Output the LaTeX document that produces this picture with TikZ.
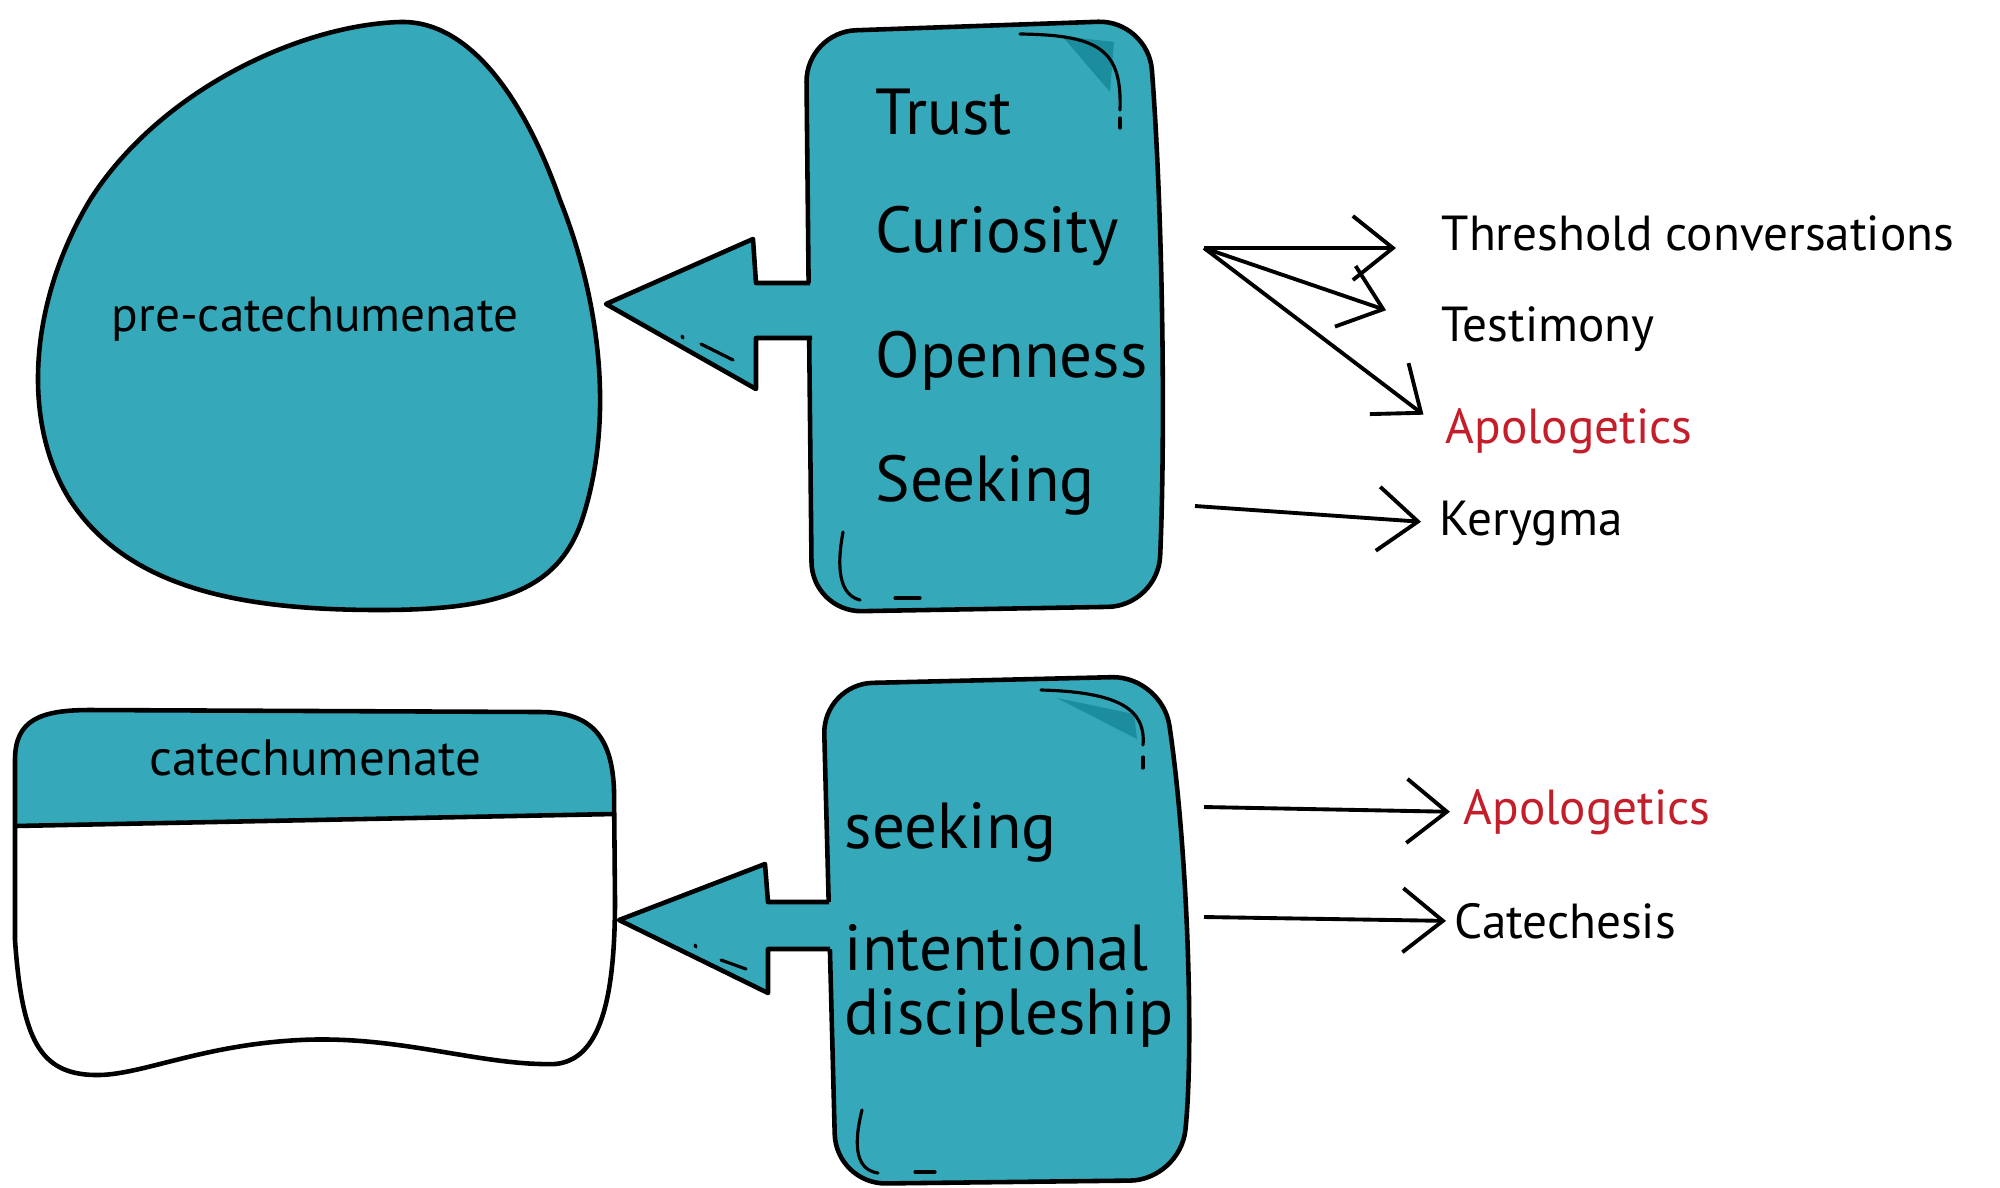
\documentclass[tikz,border=0pt]{standalone}
\usepackage{fontspec}
\setmainfont{PT Sans}
\usetikzlibrary{arrows.meta}
\definecolor{cteal}{HTML}{35A9BA}
\definecolor{cdark}{HTML}{1C8D9D}
\definecolor{cred}{HTML}{C41E2A}

\begin{document}
\begin{tikzpicture}[x=0.01cm,y=-0.01cm,
  tealfill/.style={fill=cteal,draw=black,line width=1.3pt,line join=round},
  outline/.style={line width=1.3pt,line join=round},
  sketch/.style={line width=0.9pt,line cap=round},
  word/.style={anchor=west,inner sep=0pt,font=\fontsize{18.5}{19}\selectfont},
  itemtxt/.style={anchor=west,inner sep=0pt,font=\fontsize{14}{16}\selectfont},
  >={Straight Barb[length=4mm,width=6.4mm]},
  link/.style={->,line width=1.1pt}]
\useasboundingbox (0,0) rectangle (2000,1187);

% upper row: blob
\draw[tealfill] (400,22) .. controls (470,20) and (525,100) .. (560,200)
  .. controls (600,300) and (615,420) .. (582,520)
  .. controls (558,590) and (500,610) .. (380,610)
  .. controls (250,610) and (130,592) .. (70,500)
  .. controls (20,420) and (30,300) .. (90,200)
  .. controls (160,90) and (300,25) .. (400,22) -- cycle;
\node[font=\fontsize{14}{16}\selectfont] (pre) at (315,319) {pre-catechumenate};

% upper row: box
\draw[tealfill,rounded corners=0.5cm] (806,32) -- (1148,20)
  .. controls (1162,200) and (1166,420) .. (1158,606) -- (812,612) -- cycle;
\fill[cdark] (1062,36) -- (1114,42) -- (1110,92) -- cycle;
\draw[sketch] (1020,34) .. controls (1100,35) and (1122,50) .. (1120,110);
\draw[sketch] (1120,118) -- (1120,128);
\draw[sketch] (843,532) .. controls (836,570) and (840,595) .. (860,600);
\draw[sketch] (895,598) -- (920,598);

% upper row: block arrow
\coordinate (ptip) at (606,304);
\fill[cteal] (832,283) -- (756,283) -- (753,239) -- (ptip) -- (756,389) -- (756,338) -- (832,338) -- cycle;
\draw[outline] (810,283) -- (756,283) -- (753,239) -- (ptip) -- (756,389) -- (756,338) -- (812,338);
\draw[sketch] (682,336) -- (683,338);
\draw[sketch] (701,344) -- (733,360);

\node[word] (trust) at (875,112) {Trust};
\node[word] (curio) at (875,236) {Curiosity};
\node[word] (open) at (875,361) {Openness};
\node[word] (seek) at (875,485) {Seeking};

% upper row: links
\coordinate (fork) at (1204,248);
\coordinate (kstart) at (1195,506);
\node[itemtxt] (thr) at (1441,233) {Threshold conversations};
\node[itemtxt] (tes) at (1441,329) {Testimony};
\node[itemtxt,text=cred] (apo) at (1445,431) {Apologetics};
\node[itemtxt] (ker) at (1439,523) {Kerygma};
\draw[link,shorten >=4.5mm] (fork) -- (fork -| thr.west);
\draw[link,shorten >=5.8mm] (fork) -- (tes.west);
\draw[link,shorten >=2.7mm] (fork) -- (apo.west);
\draw[link,shorten >=1.8mm] (kstart) -- (ker.west);

% lower row: catechumenate box
\begin{scope}
\clip (15,760) .. controls (15,720) and (40,710) .. (90,710) -- (540,712)
  .. controls (590,712) and (612,735) .. (614,790) -- (615,900)
  .. controls (615,1000) and (600,1060) .. (555,1064)
  .. controls (480,1066) and (400,1035) .. (300,1040)
  .. controls (200,1045) and (140,1076) .. (95,1075)
  .. controls (40,1074) and (22,1040) .. (15,940) -- cycle;
\fill[white] (0,700) rectangle (700,1100);
\fill[cteal] (0,700) -- (700,700) -- (700,814) -- (0,826) -- cycle;
\end{scope}
\draw[outline] (15,760) .. controls (15,720) and (40,710) .. (90,710) -- (540,712)
  .. controls (590,712) and (612,735) .. (614,790) -- (615,900)
  .. controls (615,1000) and (600,1060) .. (555,1064)
  .. controls (480,1066) and (400,1035) .. (300,1040)
  .. controls (200,1045) and (140,1076) .. (95,1075)
  .. controls (40,1074) and (22,1040) .. (15,940) -- cycle;
\draw[outline] (15,826) -- (614,814);
\node[font=\fontsize{14.5}{16}\selectfont] (cate) at (315,758) {catechumenate};

% lower row: box
\draw[tealfill,rounded corners=0.5cm] (823,684) -- (1162,676)
  .. controls (1188,850) and (1194,1050) .. (1180,1180) -- (836,1184) -- cycle;
\fill[cdark] (1057,698) -- (1134,714) -- (1137,739) -- cycle;
\draw[sketch] (1041,690) .. controls (1120,692) and (1146,710) .. (1143,745);
\draw[sketch] (1143,757) -- (1143,768);
\draw[sketch] (862,1110) .. controls (852,1150) and (858,1170) .. (878,1173);
\draw[sketch] (915,1172) -- (935,1172);

% lower row: block arrow
\coordinate (qtip) at (619,920);
\fill[cteal] (847,902) -- (768,902) -- (765,864) -- (qtip) -- (768,993) -- (768,949) -- (847,949) -- cycle;
\draw[outline] (829,902) -- (768,902) -- (765,864) -- (qtip) -- (768,993) -- (768,949) -- (830,949);
\draw[sketch] (695,945) -- (696,947);
\draw[sketch] (721,960) -- (746,969);

\node[word] (seek2) at (844,832) {seeking};
\node[word,align=left,font=\fontsize{18.5}{18}\selectfont] (disc) at (844,986) {intentional\\discipleship};

% lower row: links
\coordinate (sfrom) at (1204,807);
\coordinate (dfrom) at (1204,917);
\node[itemtxt,text=cred] (apo2) at (1463,812) {Apologetics};
\node[itemtxt] (cat) at (1454,921) {Catechesis};
\draw[link,shorten >=1.3mm] (sfrom) -- (apo2.west);
\draw[link,shorten >=0.8mm] (dfrom) -- (cat.west);
\end{tikzpicture}
\end{document}
